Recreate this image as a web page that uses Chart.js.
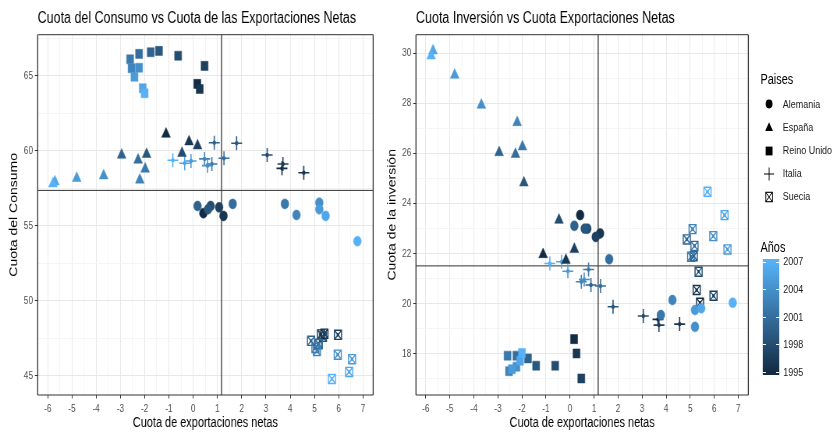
<!DOCTYPE html>
<html lang="es">
<head>
<meta charset="utf-8">
<title>Cuotas de consumo, inversión y exportaciones netas</title>
<script src="https://cdn.jsdelivr.net/npm/chart.js@4.4.1/dist/chart.umd.min.js"></script>
<style>
  html, body { margin: 0; padding: 0; background: #fff; overflow: hidden; }
  /* the reference is squeezed horizontally, so draw wide and compress */
  #lienzo { position: absolute; left: 0; top: 0; width: 1069px; height: 432px;
            transform: scaleX(0.78); transform-origin: 0 0;
            font-family: "Liberation Sans", Arial, sans-serif; }
  .panel { position: absolute; top: 0; height: 432px; }
  .txt { position: absolute; white-space: nowrap; line-height: 1; }
</style>
</head>
<body>
<div id="lienzo">
  <div class="panel" style="left:0; width:487px"><canvas id="consumo"></canvas></div>
  <div class="panel" style="left:487px; width:481px"><canvas id="inversion"></canvas></div>
  <div id="leyenda"></div>
</div>
<script>
const anios = [1995, 1996, 1997, 1998, 1999, 2000, 2001, 2002, 2003, 2004, 2005, 2006, 2007];
const paises = ['Alemania', 'España', 'Reino Unido', 'Italia', 'Suecia'];

const expAlemania  = [0.42, 1.25, 1.07, 0.72, 0.61, 0.18, 1.63, 3.78, 4.26, 5.20, 5.20, 5.46, 6.77];
const consAlemania = [55.83, 55.65, 56.22, 56.31, 56.09, 56.31, 56.45, 56.45, 55.71, 56.53, 56.09, 55.65, 53.96];
const invAlemania  = [23.54, 22.81, 22.67, 23.00, 23.00, 23.11, 21.78, 19.55, 20.15, 19.08, 19.75, 19.82, 20.04];

const expEspana  = [-1.12, -0.17, 0.18, -0.46, -1.92, -2.95, -2.27, -1.98, -2.20, -3.69, -4.80, -5.70, -5.78];
const consEspana = [61.11, 60.60, 60.33, 59.83, 59.76, 59.71, 59.38, 58.78, 58.05, 58.33, 58.16, 57.93, 57.80];
const invEspana  = [21.97, 21.74, 22.18, 23.34, 24.83, 26.04, 25.97, 26.27, 27.24, 27.93, 29.13, 30.10, 29.90];

const expReino  = [0.17, 0.27, 0.47, -0.62, -1.41, -1.75, -2.23, -2.60, -2.54, -2.23, -2.42, -2.08, -2.00];
const consReino = [64.45, 64.11, 65.65, 66.33, 66.65, 66.56, 66.45, 66.09, 65.49, 65.53, 64.93, 64.16, 63.83];
const invReino  = [18.59, 18.02, 17.02, 17.53, 17.53, 17.82, 17.93, 17.93, 17.31, 17.49, 17.39, 17.73, 18.04];

const expItalia  = [3.66, 4.56, 3.70, 3.05, 1.79, 0.87, 1.27, 0.77, 0.47, 0.59, -0.09, -0.35, -0.84];
const consItalia = [58.82, 58.53, 59.11, 59.71, 60.49, 60.53, 59.49, 59.11, 59.45, 59.00, 59.31, 59.16, 59.36];
const invItalia  = [19.38, 19.19, 19.15, 19.51, 19.88, 20.75, 20.71, 21.37, 20.88, 20.97, 21.30, 21.68, 21.61];

const expSuecia  = [5.41, 5.27, 5.97, 5.35, 5.15, 4.86, 5.18, 5.04, 5.10, 5.96, 6.55, 6.43, 5.72];
const consSuecia = [47.80, 47.75, 47.72, 47.60, 47.13, 47.32, 47.10, 46.85, 46.65, 46.40, 46.10, 45.25, 44.78];
const invSuecia  = [20.04, 20.55, 20.32, 21.28, 21.90, 22.57, 22.31, 21.88, 22.98, 22.70, 22.17, 23.54, 24.47];

const ejeX = [-6, -5, -4, -3, -2, -1, 0, 1, 2, 3, 4, 5, 6, 7];
const etiquetasX = ['-6', '-5', '-4', '-3', '-2', '-1', '0', '1', '2', '3', '4', '5', '6', '7'];
const ejeConsumo = [45, 50, 55, 60, 65];
const etiquetasConsumo = ['45', '50', '55', '60', '65'];
const ejeInversion = [18, 20, 22, 24, 26, 28, 30];
const etiquetasInversion = ['18', '20', '22', '24', '26', '28', '30'];
const etiquetasAnios = [1995, 1998, 2001, 2004, 2007];

const FUENTE = '"Liberation Sans", Arial, sans-serif';
Chart.defaults.font.family = FUENTE;

// ggplot default gradient
const bajo = [0x13, 0x2B, 0x43], alto = [0x56, 0xB1, 0xF7];
const aMin = Math.min(...anios), aMax = Math.max(...anios);
function colorAnio(a) {
  const t = (a - aMin) / (aMax - aMin);
  const c = bajo.map((v, i) => Math.round(v + (alto[i] - v) * t));
  return `rgb(${c[0]},${c[1]},${c[2]})`;
}
const colorPunto = ctx => ctx.raw ? colorAnio(ctx.raw.anio) : '#000';
const nada = 'rgba(0,0,0,0)';

const series = [
  { pais: paises[0], x: expAlemania, consumo: consAlemania, inversion: invAlemania,
    capas: [{ forma: 'circle', r: 5, bw: 0.5, relleno: true }] },
  { pais: paises[1], x: expEspana, consumo: consEspana, inversion: invEspana,
    capas: [{ forma: 'triangle', r: 6.5, bw: 0.5, relleno: true }] },
  { pais: paises[2], x: expReino, consumo: consReino, inversion: invReino,
    capas: [{ forma: 'rect', r: 6.4, bw: 0.5, relleno: true }] },
  { pais: paises[3], x: expItalia, consumo: consItalia, inversion: invItalia,
    capas: [{ forma: 'cross', r: 7, bw: 1.6, relleno: false },
            { forma: 'circle', r: 2.2, bw: 0, relleno: true }] },
  { pais: paises[4], x: expSuecia, consumo: consSuecia, inversion: invSuecia,
    capas: [{ forma: 'rect', r: 6.4, bw: 1.4, relleno: false },
            { forma: 'crossRot', r: 6.2, bw: 1.3, relleno: false },
            { forma: 'rect', r: 2.3, bw: 0, relleno: true }] }
];

const media = arr => arr.reduce((s, v) => s + v, 0) / arr.length;

// medias + panel border
const marco = {
  id: 'marco',
  beforeDatasetsDraw(chart, args, opts) {
    const { ctx, chartArea: a, scales: { x, y } } = chart;
    const px = x.getPixelForValue(opts.mx), py = y.getPixelForValue(opts.my);
    ctx.save();
    ctx.strokeStyle = '#333';
    ctx.lineWidth = 1.3;
    ctx.beginPath(); ctx.moveTo(px, a.top); ctx.lineTo(px, a.bottom); ctx.stroke();
    ctx.lineWidth = 1;
    ctx.beginPath(); ctx.moveTo(a.left, py); ctx.lineTo(a.right, py); ctx.stroke();
    ctx.restore();
  },
  afterDraw(chart) {
    const { ctx, chartArea: a } = chart;
    ctx.save();
    ctx.strokeStyle = '#333';
    ctx.lineWidth = 1;
    ctx.beginPath(); ctx.moveTo(a.left, a.top); ctx.lineTo(a.right, a.top);
    ctx.moveTo(a.left, a.bottom); ctx.lineTo(a.right, a.bottom); ctx.stroke();
    ctx.lineWidth = 1.3;
    ctx.beginPath(); ctx.moveTo(a.left, a.top); ctx.lineTo(a.left, a.bottom);
    ctx.moveTo(a.right, a.top); ctx.lineTo(a.right, a.bottom); ctx.stroke();
    ctx.restore();
  }
};

function marcas(mayores, min, max) {
  const paso = mayores[1] - mayores[0];
  const todas = [];
  for (let i = -1; i < mayores.length; i++) {
    const m = i < 0 ? mayores[0] - paso : mayores[i];
    if (i >= 0 && m >= min && m <= max) todas.push(m);
    const menor = m + paso / 2;
    if (menor >= min && menor <= max) todas.push(menor);
  }
  return todas.sort((a, b) => a - b);
}

function escala(mayores, etiquetas, min, max, tituloEje, extra) {
  const esMayor = v => mayores.includes(v);
  return Object.assign({
    type: 'linear', min, max,
    afterBuildTicks: s => { s.ticks = marcas(mayores, min, max).map(v => ({ value: v })); },
    ticks: {
      autoSkip: false, maxRotation: 0, minRotation: 0,
      color: '#4d4d4d', font: { size: 10.5 },
      callback: v => esMayor(v) ? etiquetas[mayores.indexOf(v)] : ''
    },
    grid: {
      color: c => c.tick && esMayor(c.tick.value) ? '#e8e8e8' : '#f3f3f3',
      lineWidth: c => c.tick && esMayor(c.tick.value) ? 1 : 0.8,
      tickColor: c => c.tick && esMayor(c.tick.value) ? '#333' : nada,
      tickLength: 3.5, drawTicks: true
    },
    border: { display: false },
    title: { display: true, text: tituloEje, color: '#000', font: { size: 14 } }
  }, extra);
}

function crearPanel(id, campo, titulo, tituloY, mayoresY, etiquetasY, yMin, yMax, anchoY, padTituloY, padDer) {
  const datasets = [];
  series.forEach(s => {
    const puntos = s.x.map((x, i) => ({ x, y: s[campo][i], anio: anios[i] }));
    s.capas.forEach(c => datasets.push({
      label: s.pais, data: puntos,
      pointStyle: c.forma, pointRadius: c.r, pointBorderWidth: c.bw,
      pointBackgroundColor: c.relleno ? colorPunto : nada,
      pointBorderColor: colorPunto
    }));
  });
  const todosX = series.flatMap(s => s.x);
  const todosY = series.flatMap(s => s[campo]);

  const ejeHorizontal = escala(ejeX, etiquetasX, -6.41, 7.42, 'Cuota de exportaciones netas', {
    afterFit: s => { s.height = 37; }
  });
  ejeHorizontal.ticks.padding = 4;
  ejeHorizontal.title.padding = { top: 0, bottom: 0 };

  const ejeVertical = escala(mayoresY, etiquetasY, yMin, yMax, tituloY, {
    afterFit: s => { s.width = anchoY; }
  });
  ejeVertical.ticks.padding = 2.5;
  ejeVertical.title.padding = { top: padTituloY, bottom: 0 };

  new Chart(document.getElementById(id), {
    type: 'scatter',
    data: { datasets },
    options: {
      responsive: true,
      maintainAspectRatio: false,
      animation: false,
      events: [],
      layout: { padding: { left: 0, right: padDer, top: 0, bottom: 0 } },
      scales: { x: ejeHorizontal, y: ejeVertical },
      plugins: {
        legend: { display: false },
        tooltip: { enabled: false },
        title: {
          display: true, text: titulo, align: 'start', fullSize: false,
          color: '#000', font: { size: 16, weight: 'normal' },
          padding: { top: 9, bottom: 6.5 }
        },
        marco: { mx: media(todosX), my: media(todosY) }
      }
    },
    plugins: [marco]
  });
}

crearPanel('consumo', 'consumo', 'Cuota del Consumo vs Cuota de las Exportaciones Netas',
  'Cuota del Consumo', ejeConsumo, etiquetasConsumo, 43.71, 67.73, 48.3, 10.2, 5);
crearPanel('inversion', 'inversion', 'Cuota Inversión vs Cuota Exportaciones Netas',
  'Cuota de la inversión', ejeInversion, etiquetasInversion, 16.36, 30.74, 46.3, 7.8, 1.3);

// legend (ggplot style, right side)
const leyenda = document.getElementById('leyenda');
function texto(t, x, yc, size, color) {
  const d = document.createElement('div');
  d.className = 'txt';
  d.textContent = t;
  d.style.left = x + 'px';
  d.style.top = (yc - 0.49 * size) + 'px';
  d.style.fontSize = size + 'px';
  d.style.color = color;
  leyenda.appendChild(d);
}
const simbolos = {
  'Alemania': '<circle cx="7" cy="7" r="4.4" fill="#000"/>',
  'España': '<polygon points="7,2.2 12,11 2,11" fill="#000"/>',
  'Reino Unido': '<rect x="2.6" y="2.6" width="8.8" height="8.8" fill="#000"/>',
  'Italia': '<path d="M0.5 7 H13.5 M7 0.5 V13.5" stroke="#000" stroke-width="1.1" fill="none"/>',
  'Suecia': '<rect x="2.8" y="2.3" width="8.4" height="9.4" stroke="#000" stroke-width="1.1" fill="none"/>' +
            '<path d="M2.8 2.3 L11.2 11.7 M11.2 2.3 L2.8 11.7" stroke="#000" stroke-width="1" fill="none"/>'
};
texto('Paises', 975, 79, 14, '#000');
paises.forEach((p, i) => {
  const yc = 104.3 + i * 23.1;
  const svg = document.createElementNS('http://www.w3.org/2000/svg', 'svg');
  svg.setAttribute('width', '14'); svg.setAttribute('height', '14');
  svg.style.position = 'absolute';
  svg.style.left = (986.3 - 7) + 'px';
  svg.style.top = (yc - 7) + 'px';
  svg.innerHTML = simbolos[p];
  leyenda.appendChild(svg);
  texto(p, 1003.5, yc, 11.5, '#1a1a1a');
});

texto('Años', 975, 247, 14, '#000');
const barraTop = 259, barraAlto = 116, yIni = 372.5, yFin = 262;
const barra = document.createElement('div');
Object.assign(barra.style, {
  position: 'absolute', left: '977.8px', top: barraTop + 'px', width: '21.3px', height: barraAlto + 'px',
  background: `linear-gradient(to top, ${colorAnio(aMin)} ${((barraTop + barraAlto - yIni) / barraAlto * 100).toFixed(1)}%, ${colorAnio(aMax)} ${((barraTop + barraAlto - yFin) / barraAlto * 100).toFixed(1)}%)`
});
leyenda.appendChild(barra);
etiquetasAnios.forEach(a => {
  const y = yIni - (a - aMin) / (aMax - aMin) * (yIni - yFin);
  [977.8, 999.1 - 4.5].forEach(x => {
    const t = document.createElement('div');
    Object.assign(t.style, { position: 'absolute', left: x + 'px', top: (y - 0.5) + 'px', width: '4.5px', height: '1px', background: '#fff' });
    leyenda.appendChild(t);
  });
  texto(String(a), 1004.2, y, 11.5, '#1a1a1a');
});
</script>
</body>
</html>
